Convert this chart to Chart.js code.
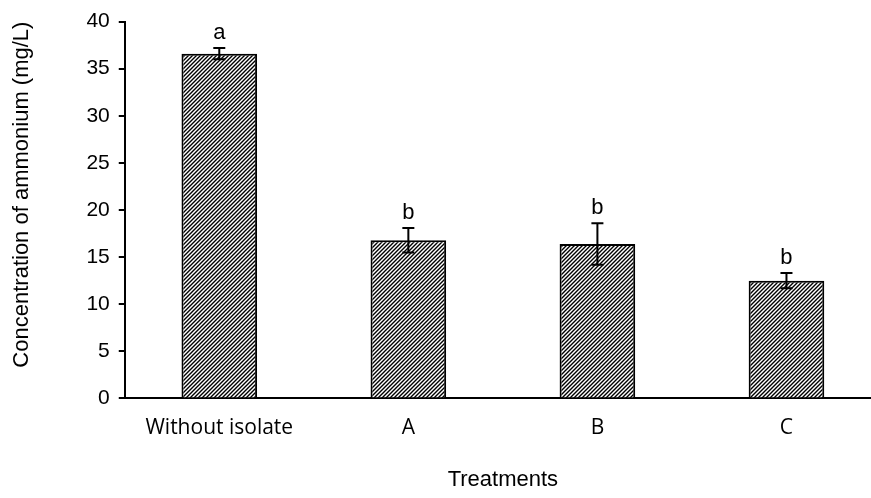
<!DOCTYPE html>
<html>
<head>
<meta charset="utf-8">
<script src="https://cdn.jsdelivr.net/npm/chart.js@4.4.0/dist/chart.umd.min.js"></script>
<style>
  html, body { margin: 0; padding: 0; background: #fff; overflow: hidden; }
  #wrap { width: 881px; height: 498px; }
</style>
</head>
<body>
<div id="wrap"><canvas id="ammoniumChart"></canvas></div>
<script>
// chart data
const categories = ["Without isolate", "A", "B", "C"];
const meanValues = [36.6, 16.8, 16.4, 12.5];
const errorValues = [0.6, 1.3, 2.2, 0.8];
const groupLetters = ["a", "b", "b", "b"];
const yTicks = [0, 5, 10, 15, 20, 25, 30, 35, 40];

// diagonal hatch fill for the bars
function makeHatch() {
    const s = 4;
    const c = document.createElement("canvas");
    c.width = s; c.height = s;
    const g = c.getContext("2d");
    g.fillStyle = "#fff";
    g.fillRect(0, 0, s, s);
    g.strokeStyle = "#000";
    g.lineWidth = 1.4;
    g.beginPath();
    g.moveTo(-1, s + 1); g.lineTo(s + 1, -1);
    g.moveTo(-1, 1); g.lineTo(1, -1);
    g.moveTo(s - 1, s + 1); g.lineTo(s + 1, s - 1);
    g.stroke();
    return g.createPattern(c, "repeat");
}

// error bars and significance letters
const errorBarPlugin = {
    id: "errorBars",
    afterDatasetsDraw(chart) {
        const ctx = chart.ctx;
        const x = chart.scales.x, y = chart.scales.y;
        ctx.save();
        ctx.strokeStyle = "#000";
        ctx.lineWidth = 2;
        meanValues.forEach((v, i) => {
            const px = x.getPixelForValue(i);
            const top = y.getPixelForValue(v + errorValues[i]);
            const bot = y.getPixelForValue(v - errorValues[i]);
            ctx.beginPath();
            ctx.moveTo(px, top); ctx.lineTo(px, bot);
            ctx.moveTo(px - 6, top); ctx.lineTo(px + 6, top);
            ctx.moveTo(px - 6, bot); ctx.lineTo(px + 6, bot);
            ctx.stroke();
            ctx.fillStyle = "#000";
            ctx.font = "22px 'Liberation Sans', Arial, sans-serif";
            ctx.textAlign = "center";
            ctx.textBaseline = "alphabetic";
            ctx.fillText(groupLetters[i], px, top - 9);
        });
        ctx.restore();
    }
};

new Chart(document.getElementById("ammoniumChart"), {
    type: "bar",
    data: {
        labels: categories,
        datasets: [{
            data: meanValues,
            backgroundColor: makeHatch(),
            borderColor: "#000",
            borderWidth: 2,
            barPercentage: 0.4,
            categoryPercentage: 1.0
        }]
    },
    options: {
        responsive: true,
        maintainAspectRatio: false,
        animation: false,
        layout: { padding: { top: 16, right: 0, left: 5, bottom: 1 } },
        plugins: {
            legend: { display: false },
            tooltip: { enabled: false }
        },
        scales: {
            x: {
                grid: { display: false },
                border: { display: true, color: "#000", width: 2 },
                ticks: {
                    color: "#000",
                    padding: 9,
                    font: { family: "'Open Sans', sans-serif", size: 21 }
                },
                title: {
                    display: true,
                    text: "Treatments",
                    color: "#000",
                    padding: { top: 17 },
                    font: { family: "'Liberation Sans', Arial, sans-serif", size: 22 }
                }
            },
            y: {
                min: 0,
                max: 40,
                afterBuildTicks: (axis) => { axis.ticks = yTicks.map(v => ({ value: v })); },
                grid: { display: true, drawOnChartArea: false, drawTicks: true, tickLength: 6, color: "#000", lineWidth: 2 },
                border: { display: true, color: "#000", width: 2 },
                ticks: {
                    color: "#000",
                    padding: 9,
                    font: { family: "'Liberation Sans', Arial, sans-serif", size: 21 }
                },
                title: {
                    display: true,
                    text: "Concentration of ammonium (mg/L)",
                    color: "#000",
                    align: "end",
                    padding: { bottom: 42 },
                    font: { family: "'Liberation Sans', Arial, sans-serif", size: 22 }
                }
            }
        }
    },
    plugins: [errorBarPlugin]
});
</script>
</body>
</html>
